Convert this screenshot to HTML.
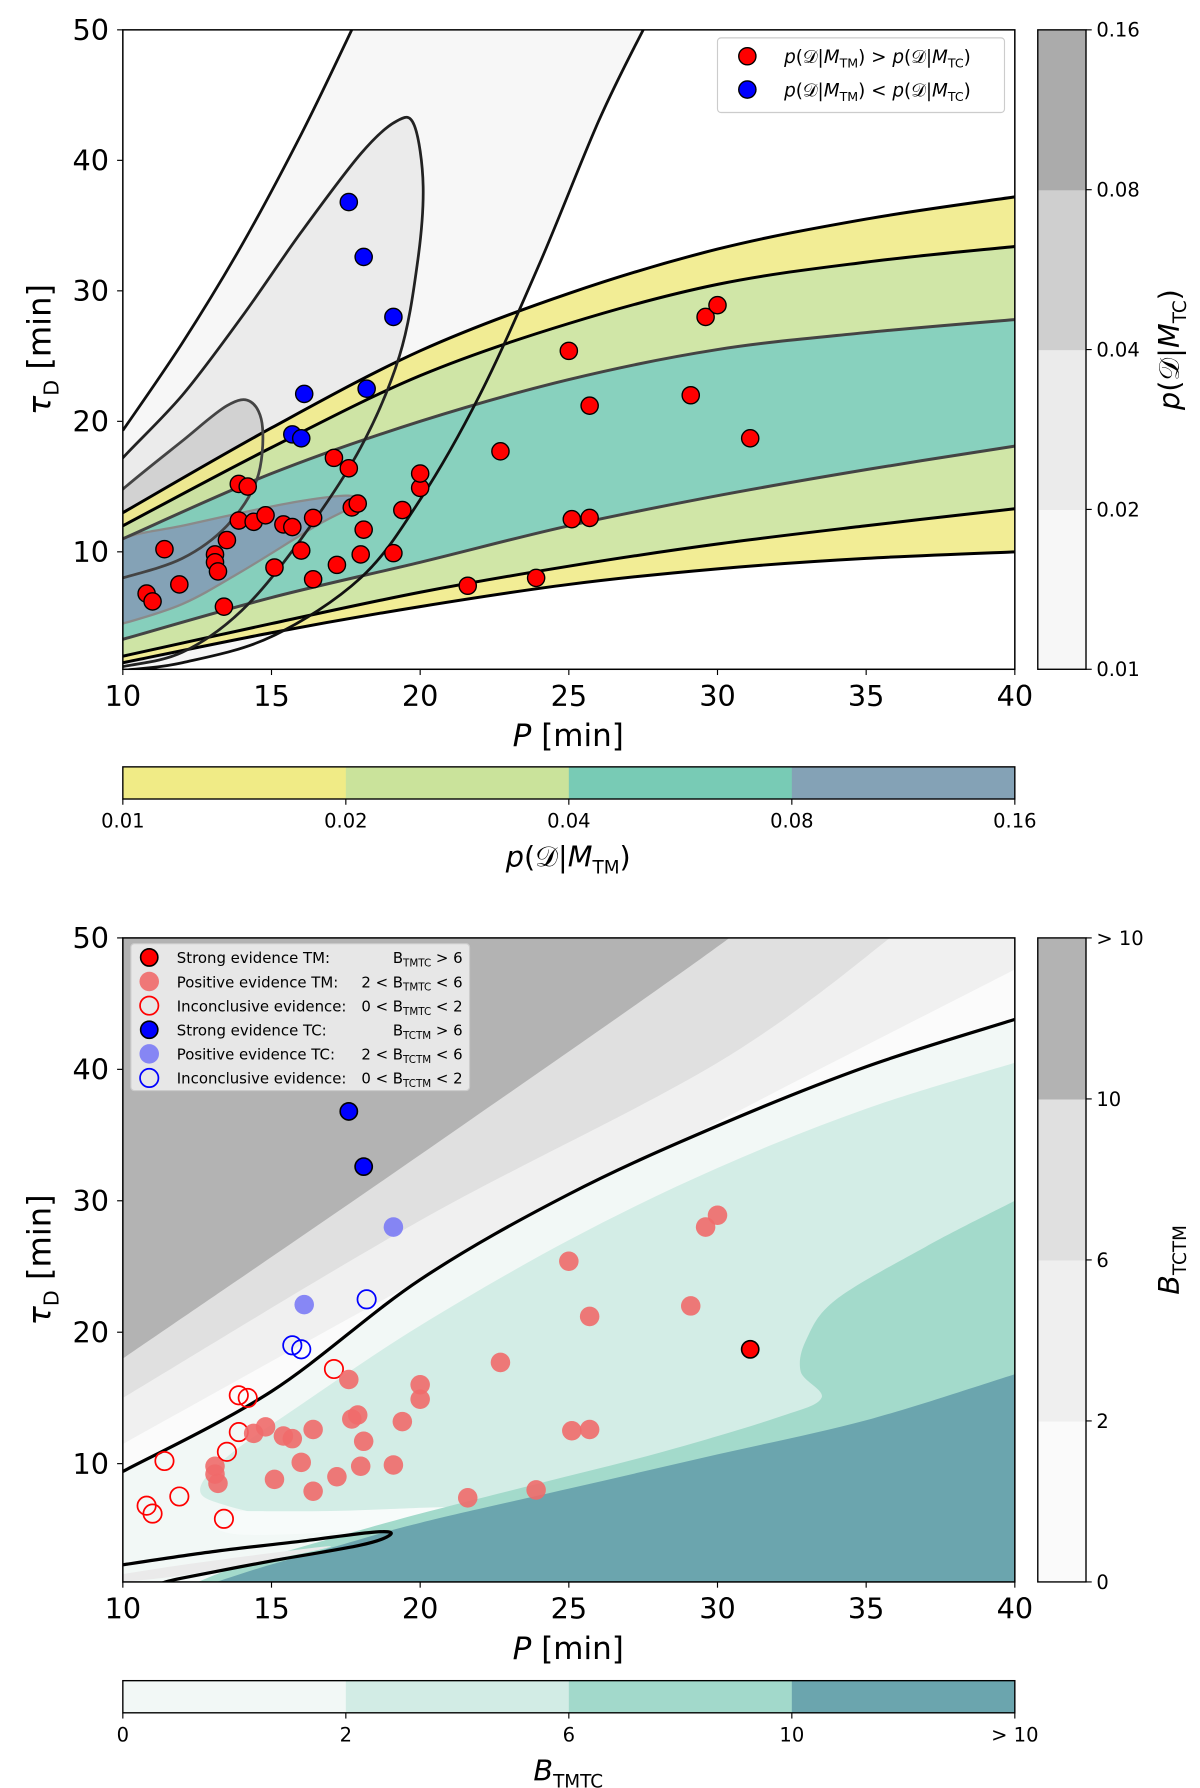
<!DOCTYPE html>
<html><head><meta charset="utf-8">
<style>
html,body{margin:0;padding:0;background:#fff;}
svg{display:block;font-family:"DejaVu Sans","Liberation Sans",sans-serif;}
</style></head>
<body>
<svg id="fig" width="1200" height="1788" viewBox="0 0 1045.3 1557.5" xmlns="http://www.w3.org/2000/svg">
<defs>
<clipPath id="clipTop"><rect x="107" y="26" width="777" height="557"/></clipPath>
<clipPath id="clipBot"><rect x="107" y="817" width="777" height="561"/></clipPath>
</defs>
<g id="topPanel"></g>
<g id="botPanel"></g>
</svg>
<script>
// ---------------- DATA ----------------
const redP   = [10.8,11.0,11.4,11.9,13.1,13.1,13.2,13.4,13.5,13.9,13.9,14.2,14.4,14.8,15.1,15.4,15.7,16.0,16.4,16.4,17.1,17.2,17.6,17.7,17.9,18.0,18.1,19.1,19.4,20.0,20.0,21.6,22.7,23.9,25.0,25.1,25.7,25.7,29.1,29.6,30.0,31.1];
const redTau = [6.8,6.2,10.2,7.5,9.8,9.2,8.5,5.8,10.9,12.4,15.2,15.0,12.3,12.8,8.8,12.1,11.9,10.1,12.6,7.9,17.2,9.0,16.4,13.4,13.7,9.8,11.7,9.9,13.2,14.9,16.0,7.4,17.7,8.0,25.4,12.5,12.6,21.2,22.0,28.0,28.9,18.7];
const redClass = ['i','i','i','i','p','p','p','i','i','i','i','i','p','p','p','p','p','p','p','p','i','p','p','p','p','p','p','p','p','p','p','p','p','p','p','p','p','p','p','p','p','s'];
const blueP   = [17.6,18.1,19.1,18.2,16.1,15.7,16.0];
const blueTau = [36.8,32.6,28.0,22.5,22.1,19.0,18.7];
const blueClass = ['s','s','p','i','p','i','i'];
const xTicks = [10,15,20,25,30,35,40];
const yTicks = [10,20,30,40,50];
const cbTopLabels = ['0.01','0.02','0.04','0.08','0.16'];
const cbBotLabels = ['0','2','6','10','> 10'];

// ---------------- HELPERS ----------------
const NS='http://www.w3.org/2000/svg';
const X0=107, X1=884, PMIN=10, PMAX=40;
function sx(p){return X0+(p-PMIN)*(X1-X0)/(PMAX-PMIN);}
function syT(t){return 26+(50-t)*(557/49);}
function syB(t){return 817+(50-t)*(561/49);}
function mk(tag,attrs,parent){const e=document.createElementNS(NS,tag);for(const k in attrs)e.setAttribute(k,attrs[k]);parent.appendChild(e);return e;}
function spline(pts){
  let d='M'+pts[0][0].toFixed(1)+','+pts[0][1].toFixed(1);
  for(let i=0;i<pts.length-1;i++){
    const p0=pts[Math.max(i-1,0)],p1=pts[i],p2=pts[i+1],p3=pts[Math.min(i+2,pts.length-1)];
    const c1=[p1[0]+(p2[0]-p0[0])/6,p1[1]+(p2[1]-p0[1])/6];
    const c2=[p2[0]-(p3[0]-p1[0])/6,p2[1]-(p3[1]-p1[1])/6];
    d+=' C'+c1[0].toFixed(1)+','+c1[1].toFixed(1)+' '+c2[0].toFixed(1)+','+c2[1].toFixed(1)+' '+p2[0].toFixed(1)+','+p2[1].toFixed(1);
  }
  return d;
}
function px(pts,sy){return pts.map(p=>[sx(p[0]),sy(p[1])]);}
function band(upper,lower,sy){
  const u=px(upper,sy), l=px(lower,sy).reverse();
  const lp=spline(l).replace(/^M/,'L');
  return spline(u)+' '+lp+' Z';
}
function txt(parent,x,y,s,size,anchor,extra){const t=mk('text',Object.assign({x:x,y:y,'font-size':size,'text-anchor':anchor||'middle',fill:'#000'},extra||{}),parent);t.innerHTML=s;return t;}

// ---------------- TOP PANEL ----------------
const topG=document.getElementById('topPanel');
const tp=mk('g',{'clip-path':'url(#clipTop)'},topG);


mk('rect',{x:107,y:26,width:777,height:557,fill:'#fff'},tp);
const G1L=[[10,19.3],[12,26],[14,33.5],[16,42],[17.7,50],[18,51.5]];
const G1R=[[28,52],[27.5,50],[26,43],[24,32],[22,22],[20,14],[18,8],[15,3.5],[12,1.5],[10,0.9],[9,0.5]];
let g1=spline(px(G1L,syT))+' '+spline(px(G1R,syT)).replace(/^M/,'L')+' Z';
mk('path',{d:g1,fill:'#f7f7f7',stroke:'none'},tp);
const G2=[[9,14.5],[10,17.2],[12,22],[14,28],[16,34.5],[18,40.5],[19.2,43],[19.8,42.7],[20.1,38],[19.9,32],[19.3,25],[18,18],[16,11],[14,5.5],[12,2.3],[10,1.2],[9,0.8]];
mk('path',{d:spline(px(G2,syT))+' Z',fill:'#ebebeb',stroke:'none'},tp);
const G3=[[9,12.5],[10,14.8],[12,18.5],[13.5,21.2],[14.3,21.5],[14.7,19.5],[14.5,15.5],[13.5,12],[12,9.5],[10,8],[9,7.5]];
mk('path',{d:spline(px(G3,syT))+' Z',fill:'#d2d2d2',stroke:'none'},tp);
const A=[[10,13.0],[15,19.5],[20,25.4],[25,29.8],[30,33.2],[35,35.5],[40,37.2]];
const B=[[10,12.0],[15,18.0],[20,23.5],[25,27.5],[30,30.5],[35,32.2],[40,33.4]];
const C=[[10,11.0],[15,16.0],[20,20.0],[25,23.2],[30,25.5],[35,26.8],[40,27.8]];
const D=[[10,3.3],[15,6.5],[20,9.2],[25,12.0],[30,14.3],[35,16.3],[40,18.1]];
const E=[[10,2.0],[15,4.5],[20,6.9],[25,8.9],[30,10.6],[35,12.0],[40,13.3]];
const F=[[10,1.5],[15,3.8],[20,5.8],[25,7.5],[30,8.7],[35,9.5],[40,10.0]];
const bands=[[A,B,'#f0eb86'],[B,C,'#cae39b'],[C,D,'#78cbb5'],[D,E,'#cae39b'],[E,F,'#f0eb86']];
bands.forEach(b=>{mk('path',{d:band(b[0],b[1],syT),fill:b[2],'fill-opacity':0.88,stroke:'none'},tp);});
const BL=[[9,9],[10,11],[12,12],[14,13],[16,13.9],[17.6,14.3],[17.8,13.6],[16.5,12],[14,8.5],[12,6],[10,4.5],[9,4]];
mk('path',{d:spline(px(BL,syT))+' Z',fill:'#84a2b6',stroke:'#8a8a8a','stroke-width':2},tp);
[[A,'#000',2.6],[B,'#000',2.6],[C,'#444',2.6],[D,'#444',2.6],[E,'#000',2.6],[F,'#000',2.6]].forEach(l=>{mk('path',{d:spline(px(l[0],syT)),fill:'none',stroke:l[1],'stroke-width':l[2]},tp);});
mk('path',{d:spline(px(G1L,syT)),fill:'none',stroke:'#111','stroke-width':2.4},tp);
mk('path',{d:spline(px(G1R,syT)),fill:'none',stroke:'#111','stroke-width':2.4},tp);
mk('path',{d:spline(px(G2,syT)),fill:'none',stroke:'#222','stroke-width':2.4},tp);
mk('path',{d:spline(px(G3,syT)),fill:'none',stroke:'#444','stroke-width':2.4},tp);
redP.forEach((p,i)=>{const c=mk('circle',{cx:sx(p),cy:syT(redTau[i]),r:7.5,fill:'#f00',stroke:'#000','stroke-width':1.2},tp);
  
  });
blueP.forEach((p,i)=>{const c=mk('circle',{cx:sx(p),cy:syT(blueTau[i]),r:7.5,fill:'#00f',stroke:'#000','stroke-width':1.2},tp);
  
  });
mk('rect',{x:107,y:26,width:777,height:557,fill:'none',stroke:'#000','stroke-width':1.3},topG);

function axes(parent,sy,yBottom){
  xTicks.forEach(v=>{mk('line',{x1:sx(v),x2:sx(v),y1:yBottom,y2:yBottom+5,stroke:'#000'},parent);
    const t=txt(parent,sx(v),yBottom+32,v,25);
    
    });
  yTicks.forEach(v=>{mk('line',{x1:102,x2:107,y1:sy(v),y2:sy(v),stroke:'#000'},parent);
    const t=txt(parent,95,sy(v)+9,v,25,'end');
    
    });
  const xl=txt(parent,495,yBottom+67,'<tspan font-style="italic">P</tspan>  [min]',27);
  
  
  const cy=(sy(50)+yBottom)/2;
  const yl=txt(parent,0,0,'<tspan font-style="italic">τ</tspan><tspan font-size="18" dy="7">D</tspan><tspan dy="-7">  [min]</tspan>',28,'middle',{transform:'translate(44,'+cy+') rotate(-90)'});
  
  
}
axes(topG,syT,583);

const lg=mk('g',{},topG);


mk('rect',{x:625,y:33,width:250,height:65,rx:3,fill:'#fff',stroke:'#ccc'},lg);
mk('circle',{cx:651,cy:49,r:7.5,fill:'#f00',stroke:'#000','stroke-width':1.2},lg);
mk('circle',{cx:651,cy:78,r:7.5,fill:'#00f',stroke:'#000','stroke-width':1.2},lg);
txt(lg,683,55,'<tspan font-style="italic">p</tspan>(𝒟|<tspan font-style="italic">M</tspan><tspan font-size="11" dy="4">TM</tspan><tspan dy="-4">) &gt; </tspan><tspan font-style="italic">p</tspan>(𝒟|<tspan font-style="italic">M</tspan><tspan font-size="11" dy="4">TC</tspan><tspan dy="-4">)</tspan>',16,'start');
txt(lg,683,84,'<tspan font-style="italic">p</tspan>(𝒟|<tspan font-style="italic">M</tspan><tspan font-size="11" dy="4">TM</tspan><tspan dy="-4">) &lt; </tspan><tspan font-style="italic">p</tspan>(𝒟|<tspan font-style="italic">M</tspan><tspan font-size="11" dy="4">TC</tspan><tspan dy="-4">)</tspan>',16,'start');

function vcolorbar(parent,y0,y1,cols,labels,title){
  const g=mk('g',{},parent);
  
  
  const h=(y1-y0)/cols.length;
  cols.forEach((c,i)=>mk('rect',{x:904,y:y1-(i+1)*h,width:42,height:h+0.5,fill:c},g));
  mk('rect',{x:904,y:y0,width:42,height:y1-y0,fill:'none',stroke:'#000','stroke-width':1.2},g);
  labels.forEach((l,i)=>{const y=y1-i*h;mk('line',{x1:946,x2:951,y1:y,y2:y,stroke:'#000'},g);txt(g,955,y+6,l,17,'start');});
  txt(g,0,0,title,25,'middle',{transform:'translate(1027,'+((y0+y1)/2)+') rotate(-90)'});
}
function hcolorbar(parent,y,cols,labels,title){
  const g=mk('g',{},parent);
  
  
  const w=777/cols.length;
  cols.forEach((c,i)=>mk('rect',{x:107+i*w,y:y,width:w+0.5,height:28,fill:c},g));
  mk('rect',{x:107,y:y,width:777,height:28,fill:'none',stroke:'#000','stroke-width':1.2},g);
  labels.forEach((l,i)=>{const x=107+i*w;mk('line',{x1:x,x2:x,y1:y+28,y2:y+33,stroke:'#000'},g);txt(g,x,y+53,l,17);});
  txt(g,495,y+87,title,25);
}
vcolorbar(topG,26,583,['#f7f7f7','#ebebeb','#cfcfcf','#ababab'],cbTopLabels,'<tspan font-style="italic">p</tspan>(𝒟|<tspan font-style="italic">M</tspan><tspan font-size="16" dy="6">TC</tspan><tspan dy="-6">)</tspan>');
hcolorbar(topG,668,['#f0eb86','#cae39b','#78cbb5','#84a2b6'],cbTopLabels,'<tspan font-style="italic">p</tspan>(𝒟|<tspan font-style="italic">M</tspan><tspan font-size="16" dy="6">TM</tspan><tspan dy="-6">)</tspan>');

// ---------------- BOTTOM PANEL ----------------
const botG=document.getElementById('botPanel');
const bp=mk('g',{'clip-path':'url(#clipBot)'},botG);


mk('rect',{x:107,y:817,width:777,height:561,fill:'#fbfbfb'},bp);
function region(pts,close,fill){mk('path',{d:spline(px(pts,syB))+close.map(c=>' L'+sx(c[0]).toFixed(1)+','+syB(c[1]).toFixed(1)).join('')+' Z',fill:fill},bp);}
region([[10,11.5],[20,24],[30,36],[40,47.6]],[[41,52],[9,52]],'#f0f0f0');
region([[10,15],[20,28.5],[30,40.5],[35.8,50],[36.5,52]],[[9,52]],'#e0e0e0');
region([[10,18],[20,33.5],[30.4,50],[31,52]],[[9,52]],'#b3b3b3');
const BK=[[10,9.4],[15,15.5],[20,24],[25,30.5],[30,35.7],[35,40.2],[40,43.8]];
region(BK,[[40,0],[10,0]],'#f2f8f6');
region([[40,40.5],[35,37],[30,32.5],[25,27],[20,20.5],[16,14.5],[13.5,10.5],[12.6,8],[13.5,6.8],[16,5.6],[20,4.2],[24,3],[28,1.5],[30,0.5]],[[40,0]],'#d3ede6');
mk('path',{d:spline(px([[13.5,6.4],[17,6.4],[21,6.7],[23.2,6.6],[22,5.7],[18,4.9],[14,4.6],[13,5.5],[13.5,6.4]],syB))+' Z',fill:'#f7fbfa'},bp);
region([[40,30],[37,26.5],[34,22.5],[33,19.5],[32.8,17],[33.5,15],[32,13.5],[28,10.8],[24,8.5],[20,6.2],[17,4.3],[14,2.3],[12,0.5]],[[40,0]],'#a3dacb');
region([[40,16.8],[35,13.3],[30,10.7],[25,8.1],[20,5.5],[17,3.6],[14.5,2],[12.5,0.5]],[[40,0]],'#6ba5ae');
mk('path',{d:spline(px([[10,1.6],[12,2.3],[15,3.2],[17,3.7],[15,2.7],[12,1.5],[10,1.0]],syB))+' Z',fill:'#eaeaea'},bp);
mk('path',{d:spline(px(BK,syB)),fill:'none',stroke:'#000','stroke-width':2.8},bp);
mk('path',{d:spline(px([[9.5,2.1],[10,2.3],[13,3.3],[16,4.1],[18.5,4.8],[19,4.6],[18,3.8],[15,2.6],[12,1.3],[11.3,0.9]],syB)),fill:'none',stroke:'#000','stroke-width':2.8},bp);

function evidenceMarker(parent,cx,cy,cls,color,soft){
  let c;
  if(cls==='s') c=mk('circle',{cx:cx,cy:cy,r:7.5,fill:color,stroke:'#000','stroke-width':1.4},parent);
  else if(cls==='p') c=mk('circle',{cx:cx,cy:cy,r:8.5,fill:soft,'fill-opacity':0.9},parent);
  else c=mk('circle',{cx:cx,cy:cy,r:8,fill:'none',stroke:color,'stroke-width':1.5},parent);
  return c;
}
redP.forEach((p,i)=>{const c=evidenceMarker(bp,sx(p),syB(redTau[i]),redClass[i],'#f00','#ef6a6a');
  
  });
blueP.forEach((p,i)=>{const c=evidenceMarker(bp,sx(p),syB(blueTau[i]),blueClass[i],'#00f','#7b7bf5');
  
  });
mk('rect',{x:107,y:817,width:777,height:561,fill:'none',stroke:'#000','stroke-width':1.3},botG);
axes(botG,syB,1378);

const lb=mk('g',{},botG);


mk('rect',{x:114,y:822,width:295,height:128,rx:3,fill:'#ececec','fill-opacity':0.9,stroke:'#ccc'},lb);
const legRows=[['s','#f00','#ef6a6a','Strong evidence TM:','B<tspan font-size="9" dy="3">TMTC</tspan><tspan dy="-3"> &gt; 6</tspan>'],
 ['p','#f00','#ef6a6a','Positive evidence TM:','2 &lt; B<tspan font-size="9" dy="3">TMTC</tspan><tspan dy="-3"> &lt; 6</tspan>'],
 ['i','#f00','#ef6a6a','Inconclusive evidence:','0 &lt; B<tspan font-size="9" dy="3">TMTC</tspan><tspan dy="-3"> &lt; 2</tspan>'],
 ['s','#00f','#7b7bf5','Strong evidence TC:','B<tspan font-size="9" dy="3">TCTM</tspan><tspan dy="-3"> &gt; 6</tspan>'],
 ['p','#00f','#7b7bf5','Positive evidence TC:','2 &lt; B<tspan font-size="9" dy="3">TCTM</tspan><tspan dy="-3"> &lt; 6</tspan>'],
 ['i','#00f','#7b7bf5','Inconclusive evidence:','0 &lt; B<tspan font-size="9" dy="3">TCTM</tspan><tspan dy="-3"> &lt; 2</tspan>']];
legRows.forEach((r,i)=>{const y=834+i*21;evidenceMarker(lb,130,y,r[0],r[1],r[2]);txt(lb,154,y+5,r[3],13,'start');txt(lb,403,y+5,r[4],13,'end');});

vcolorbar(botG,817,1378,['#fafafa','#efefef','#e0e0e0','#b3b3b3'],cbBotLabels,'<tspan font-style="italic">B</tspan><tspan font-size="16" dy="6">TCTM</tspan>');
hcolorbar(botG,1464,['#f2f8f6','#d2ece5','#a2d9cb','#6ba5ae'],cbBotLabels,'<tspan font-style="italic">B</tspan><tspan font-size="16" dy="6">TMTC</tspan>');
</script>
</body></html>
